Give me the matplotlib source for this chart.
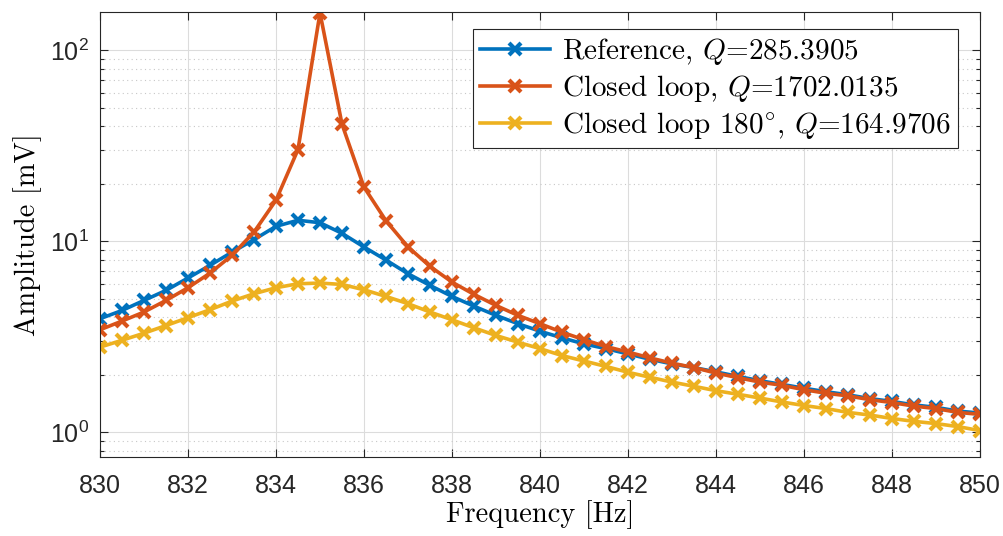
import numpy as np
import matplotlib
matplotlib.use('Agg')
import matplotlib.pyplot as plt
from matplotlib.ticker import FixedLocator, FuncFormatter, LogLocator, NullFormatter

plt.rcParams['mathtext.fontset'] = 'cm'

# Frequency sweep, 0.5 Hz step
freq = np.arange(830, 850.01, 0.5)

amp_ref = [3.93, 4.34, 4.90, 5.53, 6.42, 7.48, 8.77, 10.2, 11.97, 12.88, 12.5,
           11.0, 9.33, 7.97, 6.76, 5.87, 5.14, 4.57, 4.09, 3.70, 3.38, 3.12,
           2.90, 2.74, 2.57, 2.41, 2.28, 2.18, 2.07, 1.96, 1.86, 1.78, 1.70,
           1.63, 1.57, 1.50, 1.45, 1.39, 1.35, 1.29, 1.26]
amp_cl = [3.44, 3.82, 4.26, 4.90, 5.71, 6.81, 8.44, 11.17, 16.4, 30.2, 157.0,
          41.0, 19.2, 12.8, 9.33, 7.39, 6.11, 5.27, 4.61, 4.09, 3.70, 3.34,
          3.05, 2.81, 2.63, 2.45, 2.30, 2.18, 2.04, 1.93, 1.83, 1.76, 1.67,
          1.60, 1.55, 1.48, 1.43, 1.37, 1.33, 1.27, 1.24]
amp_cl180 = [2.79, 3.03, 3.30, 3.62, 3.98, 4.38, 4.86, 5.31, 5.71, 5.99, 6.04,
             5.94, 5.57, 5.14, 4.71, 4.26, 3.88, 3.52, 3.21, 2.96, 2.74, 2.52,
             2.36, 2.21, 2.06, 1.94, 1.83, 1.74, 1.65, 1.58, 1.51, 1.44, 1.38,
             1.33, 1.27, 1.23, 1.18, 1.14, 1.11, 1.07, 1.02]

labels = ['Reference, $Q$=285.3905',
          'Closed loop, $Q$=1702.0135',
          r'Closed loop 180$^{\circ}$, $Q$=164.9706']
colors = ['#0072BD', '#D95319', '#EDB120']

fig = plt.figure(figsize=(10.04, 5.36), dpi=100)
ax = fig.add_axes([0.0996, 0.147, 0.8765, 0.831])

for y, lab, c in zip([amp_ref, amp_cl, amp_cl180], labels, colors):
    ax.plot(freq, y, '-x', color=c, lw=2.6, ms=8, mew=3.0, label=lab)

ax.set_yscale('log')
ax.set_xlim(830, 850)
ax.set_ylim(0.74, 159)

ax.xaxis.set_major_locator(FixedLocator(np.arange(830, 851, 2)))
ax.yaxis.set_major_locator(FixedLocator([1, 10, 100]))
ax.yaxis.set_major_formatter(FuncFormatter(lambda v, p: r'$\mathregular{10^{%d}}$' % round(np.log10(v))))
ax.yaxis.set_minor_locator(LogLocator(base=10, subs=np.arange(2, 10)))
ax.yaxis.set_minor_formatter(NullFormatter())

ax.grid(True, which='major', color='#dcdcdc', lw=0.8)
ax.grid(True, which='minor', axis='y', color='#c8c8c8', lw=0.8, ls=(0, (1, 3)))
ax.set_axisbelow(True)

ax.tick_params(which='both', direction='in', top=True, right=True,
               labelsize=18, labelcolor='#262626', color='#262626', width=0.8)
ax.tick_params(which='major', length=6)
ax.tick_params(which='minor', length=3)
ax.tick_params(axis='x', pad=12)
ax.tick_params(axis='y', pad=8)
for lab in ax.get_xticklabels() + ax.get_yticklabels():
    lab.set_fontfamily('Liberation Sans')
for s in ax.spines.values():
    s.set_color('#262626')
    s.set_linewidth(0.8)

ax.set_xlabel('Frequency [Hz]', family='cmr10', fontsize=20.5, labelpad=2)
ax.set_ylabel('Amplitude [mV]', family='cmr10', fontsize=20.5, labelpad=6)

leg = ax.legend(loc='upper right', bbox_to_anchor=(0.975, 0.961), prop={'family': 'cmr10', 'size': 21},
                fancybox=False, framealpha=1, edgecolor='#262626', borderpad=0.25,
                handlelength=2.4, handletextpad=0.4, labelspacing=0.2, borderaxespad=0)
leg.get_frame().set_linewidth(0.8)

fig.savefig('out.png', dpi=100)
